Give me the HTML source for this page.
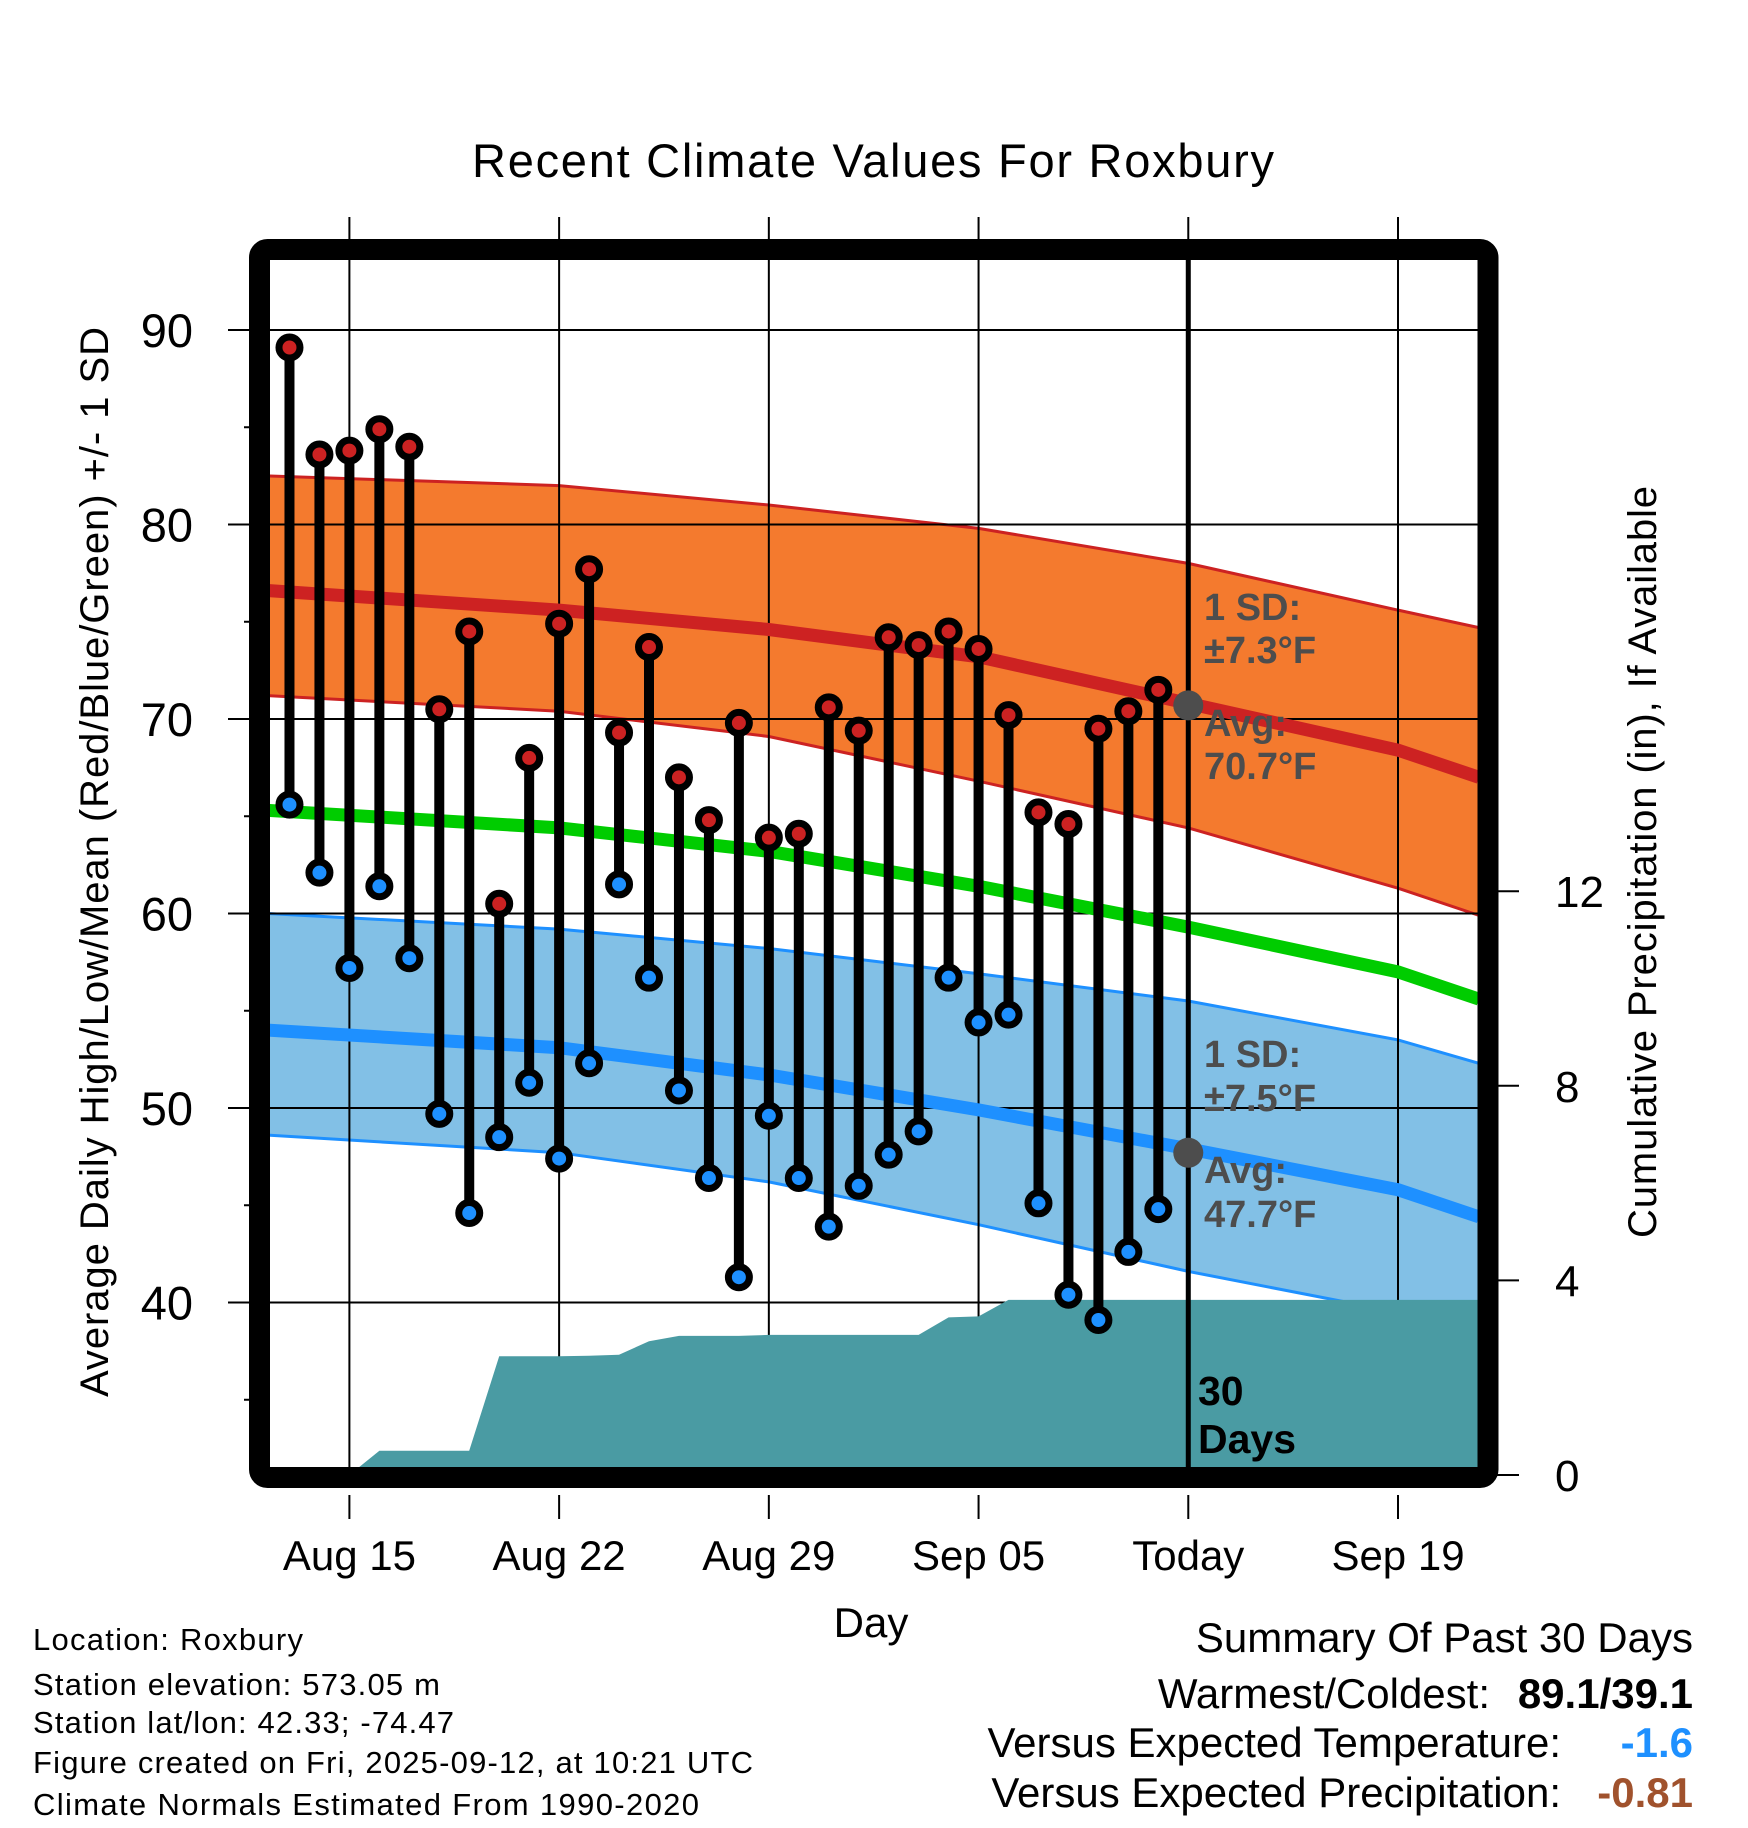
<!DOCTYPE html>
<html><head><meta charset="utf-8"><style>
html,body{margin:0;padding:0;background:#fff}
svg{display:block}
text{font-family:"Liberation Sans",Arial,sans-serif}
</style></head><body>
<svg id="chart" width="1748" height="1828" viewBox="0 0 1748 1828" xmlns="http://www.w3.org/2000/svg">
<defs><clipPath id="plotclip"><rect x="270" y="260" width="1208" height="1207"/></clipPath></defs>
<rect width="1748" height="1828" fill="#fff"/>
<text x="873" y="177" font-size="47" text-anchor="middle" textLength="802">Recent Climate Values For Roxbury</text>
<g id="bands" clip-path="url(#plotclip)"></g>
<g id="grid" clip-path="url(#plotclip)"></g>
<g id="ticks"></g>
<g id="lines" clip-path="url(#plotclip)"></g>
<g id="precip" clip-path="url(#plotclip)"></g>
<g id="marks"></g>
<g id="annot"></g>
<rect x="259.5" y="249.5" width="1228.5" height="1228" rx="8" fill="none" stroke="#000" stroke-width="21"/>
<text x="871" y="1637" font-size="42" text-anchor="middle">Day</text>
<text transform="translate(108,862) rotate(-90)" font-size="40" text-anchor="middle" textLength="1070">Average Daily High/Low/Mean (Red/Blue/Green) +/- 1 SD</text>
<text transform="translate(1656,862) rotate(-90)" font-size="40" text-anchor="middle" textLength="752">Cumulative Precipitation (in), If Available</text>
<g font-size="31">
<text x="33" y="1650" textLength="270">Location: Roxbury</text>
<text x="33" y="1695" textLength="407">Station elevation: 573.05 m</text>
<text x="33" y="1733" textLength="421">Station lat/lon: 42.33; -74.47</text>
<text x="33" y="1773" textLength="720">Figure created on Fri, 2025-09-12, at 10:21 UTC</text>
<text x="33" y="1815" textLength="666">Climate Normals Estimated From 1990-2020</text>
</g>
<g font-size="42">
<text x="1693" y="1652" text-anchor="end">Summary Of Past 30 Days</text>
<text x="1490" y="1708" text-anchor="end">Warmest/Coldest:</text>
<text x="1693" y="1708" text-anchor="end" font-weight="bold">89.1/39.1</text>
<text x="1561" y="1757" text-anchor="end">Versus Expected Temperature:</text>
<text x="1693" y="1757" text-anchor="end" font-weight="bold" fill="#1e90ff">-1.6</text>
<text x="1561" y="1807" text-anchor="end">Versus Expected Precipitation:</text>
<text x="1693" y="1807" text-anchor="end" font-weight="bold" fill="#a0522d">-0.81</text>
</g>
</svg>
<script>
// Observed data: day offsets relative to Aug 15
const obsDays = [-2,-1,0,1,2,3,4,5,6,7,8,9,10,11,12,13,14,15,16,17,18,19,20,21,22,23,24,25,26,27];
const highs = [89.1,83.6,83.8,84.9,84.0,70.5,74.5,60.5,68.0,74.9,77.7,69.3,73.7,67.0,64.8,69.8,63.9,64.1,70.6,69.4,74.2,73.8,74.5,73.6,70.2,65.2,64.6,69.5,70.4,71.5];
const lows = [65.6,62.1,57.2,61.4,57.7,49.7,44.6,48.5,51.3,47.4,52.3,61.5,56.7,50.9,46.4,41.3,49.6,46.4,43.9,46.0,47.6,48.8,56.7,54.4,54.8,45.1,40.4,39.1,42.6,44.8];
const precip = [0,0,0,0.5,0.5,0.5,0.5,2.44,2.44,2.44,2.45,2.47,2.75,2.86,2.86,2.86,2.88,2.88,2.88,2.88,2.88,2.88,3.24,3.26,3.6,3.6,3.6,3.6,3.6,3.6];
// Normals
const normDays = [-2.7,7,14,21,28,35,37.7];
const highUpper = [82.5,82.0,81.0,79.8,78.0,75.6,74.7];
const highAvg = [76.6,75.6,74.6,73.2,70.8,68.4,67.0];
const highLower = [71.2,70.4,69.1,66.8,64.4,61.3,59.9];
const meanAvg = [65.3,64.4,63.2,61.4,59.3,57.0,55.6];
const lowUpper = [60.0,59.2,58.2,56.9,55.5,53.5,52.3];
const lowAvg = [54.0,53.1,51.7,49.9,47.9,45.8,44.4];
const lowLower = [48.6,47.7,46.2,44.0,41.6,39.5,38.6];
// Axes
const xTickDays = [0,7,14,21,28,35];
const xTickLabels = ["Aug 15","Aug 22","Aug 29","Sep 05","Today","Sep 19"];
const yTicks = [40,50,60,70,80,90];
const yMinor = [35,45,55,65,75,85];
const pTicks = [0,4,8,12];
const todayDay = 28;
const todayHigh = 70.7, todayLow = 47.7;

const NS="http://www.w3.org/2000/svg";
const xS=d=>349.4+d*29.96;
const yT=t=>330+(90-t)*19.45;
const yP=p=>1475-p*48.65;
function mk(parent,tag,attrs){const e=document.createElementNS(NS,tag);for(const k in attrs)e.setAttribute(k,attrs[k]);document.getElementById(parent).appendChild(e);return e;}
function pts(days,vals){return days.map((d,i)=>xS(d).toFixed(1)+","+yT(vals[i]).toFixed(1));}

let e=mk('bands','polygon',{points:pts(normDays,highUpper).concat(pts(normDays,highLower).reverse()).join(' '),fill:'#f47a2e'});


e=mk('bands','polygon',{points:pts(normDays,lowUpper).concat(pts(normDays,lowLower).reverse()).join(' '),fill:'#82c0e6'});


[[highUpper,'#cc2222','high-band-upper'],[highLower,'#cc2222','high-band-lower'],[lowUpper,'#1e90ff','low-band-upper'],[lowLower,'#1e90ff','low-band-lower']].forEach(([v,c,n])=>{
 const l=mk('bands','polyline',{points:pts(normDays,v).join(' '),fill:'none',stroke:c,'stroke-width':3});
 
 
});
yTicks.forEach(t=>{const g=mk('grid','line',{x1:270,x2:1478,y1:yT(t),y2:yT(t),stroke:'#000','stroke-width':2});
 
 });
xTickDays.forEach(d=>{const g=mk('grid','line',{x1:xS(d),x2:xS(d),y1:260,y2:1467,stroke:'#000','stroke-width':2});
 
 });
yTicks.forEach(t=>{mk('ticks','line',{x1:228,x2:252,y1:yT(t),y2:yT(t),stroke:'#000','stroke-width':2});
 const tx=mk('ticks','text',{x:193,y:yT(t)+17,'font-size':47,'text-anchor':'end'});tx.textContent=t;
 
 });
yMinor.forEach(t=>mk('ticks','line',{x1:244,x2:252,y1:yT(t),y2:yT(t),stroke:'#000','stroke-width':2}));
pTicks.forEach(p=>{mk('ticks','line',{x1:1495,x2:1519,y1:yP(p),y2:yP(p),stroke:'#000','stroke-width':2});
 const tx=mk('ticks','text',{x:1555,y:yP(p)+16,'font-size':44});tx.textContent=p;
 
 });
xTickDays.forEach((d,i)=>{mk('ticks','line',{x1:xS(d),x2:xS(d),y1:217,y2:242,stroke:'#000','stroke-width':2});
 mk('ticks','line',{x1:xS(d),x2:xS(d),y1:1495,y2:1519,stroke:'#000','stroke-width':2});
 const tx=mk('ticks','text',{x:xS(d),y:1570,'font-size':42,'text-anchor':'middle'});tx.textContent=xTickLabels[i];
 
 });
[[highAvg,'#cd2222','avg-high-line'],[meanAvg,'#00cc00','avg-mean-line'],[lowAvg,'#1e90ff','avg-low-line']].forEach(([v,c,n])=>{
 const l=mk('lines','polyline',{points:pts(normDays,v).join(' '),fill:'none',stroke:c,'stroke-width':13});
 
 
});
let pp=[xS(-2.7)+","+yP(0)];
obsDays.forEach((d,i)=>pp.push(xS(d).toFixed(1)+","+yP(precip[i]).toFixed(1)));
pp.push(xS(37.7)+","+yP(precip[precip.length-1]));
pp.push(xS(37.7)+","+yP(-1));pp.push(xS(-2.7)+","+yP(-1));
e=mk('precip','polygon',{points:pp.join(' '),fill:'#4a9ba3'});


e=mk('precip','line',{x1:xS(todayDay),x2:xS(todayDay),y1:260,y2:1467,stroke:'#000','stroke-width':5});


obsDays.forEach((d,i)=>{
 const s=mk('marks','line',{x1:xS(d),x2:xS(d),y1:yT(highs[i]),y2:yT(lows[i]),stroke:'#000','stroke-width':10});
 
 
});
obsDays.forEach((d,i)=>{
 const h=mk('marks','circle',{cx:xS(d),cy:yT(highs[i]),r:10.5,fill:'#cc2222',stroke:'#000','stroke-width':7});
 
 
 const l=mk('marks','circle',{cx:xS(d),cy:yT(lows[i]),r:10.5,fill:'#1e90ff',stroke:'#000','stroke-width':7});
 
 
});
[[todayHigh,'today-avg-high-dot'],[todayLow,'today-avg-low-dot']].forEach(([v,n])=>{
 const c=mk('annot','circle',{cx:xS(todayDay),cy:yT(v),r:15,fill:'#4d4d4d'});
 
 
});
const ann=[["1 SD:",620],["\u00b17.3\u00b0F",663],["Avg:",736],["70.7\u00b0F",779],["1 SD:",1067],["\u00b17.5\u00b0F",1111],["Avg:",1183],["47.7\u00b0F",1227]];
ann.forEach(([t,y])=>{const tx=mk('annot','text',{x:1204,y:y,'font-size':38,'font-weight':'bold',fill:'#4d4d4d'});tx.textContent=t;
 
 });
[["30",1405],["Days",1453]].forEach(([t,y])=>{const tx=mk('annot','text',{x:1198,y:y,'font-size':41,'font-weight':'bold',fill:'#000'});tx.textContent=t;
 
 });
</script>
</body></html>
